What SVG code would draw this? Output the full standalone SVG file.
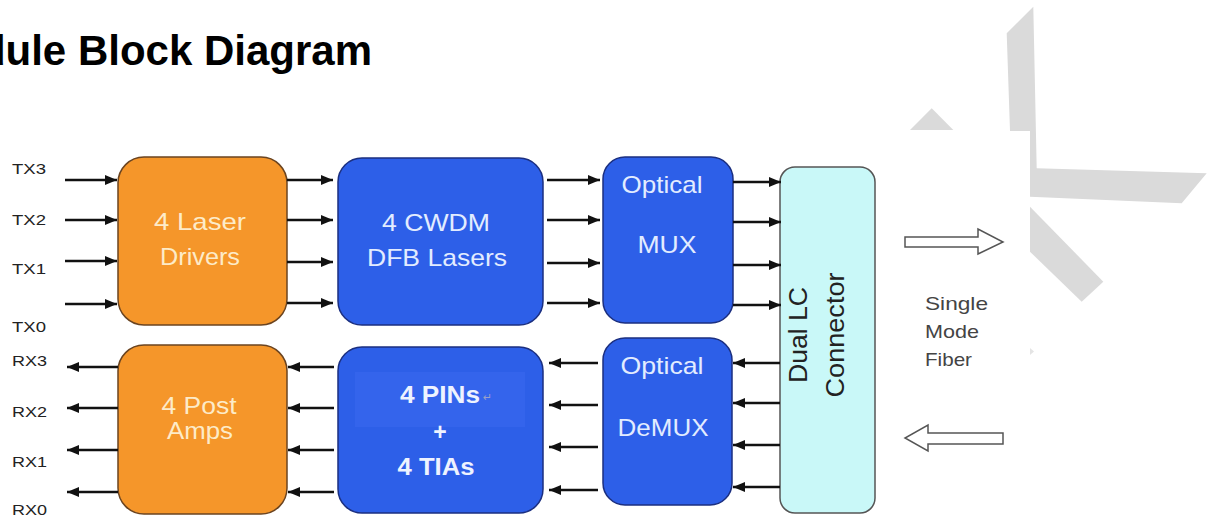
<svg xmlns="http://www.w3.org/2000/svg" width="1207" height="517" viewBox="0 0 1207 517">
<style>
.title{font-family:"Liberation Sans",Arial,sans-serif;font-weight:bold;font-size:42px;fill:#000}
.lbl{font-family:"Liberation Sans",Arial,sans-serif;font-size:15px;fill:#222}
.orange{fill:#F5962A;stroke:#6b4420;stroke-width:1.5}
.blue{fill:#2D5FE8;stroke:#1b2f80;stroke-width:1.5}
.conn{fill:#C9F8F8;stroke:#555;stroke-width:1.5}
.ot{font-family:"Liberation Sans",Arial,sans-serif;font-size:24px;fill:#FDEBC8;text-anchor:middle}
.bt{font-family:"Liberation Sans",Arial,sans-serif;font-size:24px;fill:#E2ECFF;text-anchor:middle}
.btb{font-family:"Liberation Sans",Arial,sans-serif;font-size:23px;font-weight:bold;fill:#EEF3FF;text-anchor:middle}
.ct{font-family:"Liberation Sans",Arial,sans-serif;font-size:26px;fill:#222;text-anchor:middle}
.ft{font-family:"Liberation Sans",Arial,sans-serif;font-size:19px;fill:#444}
.wm{fill:#DADADA}
.ar{stroke:#111;stroke-width:2.5;fill:none;marker-end:url(#ah)}
.hollow{fill:#fff;stroke:#555;stroke-width:1.5}
</style>
<defs>
<marker id="ah" viewBox="0 0 12 10" refX="12" refY="5" markerWidth="12" markerHeight="10" markerUnits="userSpaceOnUse" orient="auto">
<path d="M0,0 L12,5 L0,10 z" fill="#111"/>
</marker>
</defs>
<rect width="1207" height="517" fill="#fff"/>
<g id="watermark">
<polygon class="wm" points="1006.7,33.3 1010,131 1030,131 1030,196.7 1181.7,203.3 1206.7,173.3 1036.7,168.3 1033.3,6.7"/>
<polygon class="wm" points="910,130 931.7,108.3 953.3,130"/>
<polygon class="wm" points="1030,206.7 1030,251.7 1081.7,301.7 1103.3,281.7"/>
<polygon fill="#E4E4E4" points="1030,348 1034,351.5 1030,355"/>
</g>
<text class="title" x="372" y="65" text-anchor="end">Module Block Diagram</text>
<g id="tx-labels">
<text class="lbl" x="12" y="174" textLength="34" lengthAdjust="spacingAndGlyphs">TX3</text>
<text class="lbl" x="12" y="225" textLength="34" lengthAdjust="spacingAndGlyphs">TX2</text>
<text class="lbl" x="12" y="274" textLength="34" lengthAdjust="spacingAndGlyphs">TX1</text>
<text class="lbl" x="12" y="332" textLength="34" lengthAdjust="spacingAndGlyphs">TX0</text>
</g>
<g id="rx-labels">
<text class="lbl" x="12" y="366" textLength="35" lengthAdjust="spacingAndGlyphs">RX3</text>
<text class="lbl" x="12" y="417" textLength="35" lengthAdjust="spacingAndGlyphs">RX2</text>
<text class="lbl" x="12" y="467" textLength="35" lengthAdjust="spacingAndGlyphs">RX1</text>
<text class="lbl" x="12" y="515" textLength="35" lengthAdjust="spacingAndGlyphs">RX0</text>
</g>
<g id="laser-drivers">
<rect class="orange" x="118" y="157" width="169" height="168" rx="26"/>
<text class="ot" x="200" y="230" textLength="92" lengthAdjust="spacingAndGlyphs">4 Laser</text>
<text class="ot" x="200" y="265" textLength="80" lengthAdjust="spacingAndGlyphs">Drivers</text>
</g>
<g id="cwdm-lasers">
<rect class="blue" x="338" y="158" width="205" height="167" rx="24"/>
<text class="bt" x="436" y="231" textLength="108" lengthAdjust="spacingAndGlyphs">4 CWDM</text>
<text class="bt" x="437" y="266" textLength="140" lengthAdjust="spacingAndGlyphs">DFB Lasers</text>
</g>
<g id="optical-mux">
<rect class="blue" x="603" y="157" width="130" height="166" rx="22"/>
<text class="bt" x="662" y="193" textLength="81" lengthAdjust="spacingAndGlyphs">Optical</text>
<text class="bt" x="667" y="253" textLength="59" lengthAdjust="spacingAndGlyphs">MUX</text>
</g>
<g id="post-amps">
<rect class="orange" x="118" y="345" width="169" height="169" rx="26"/>
<text class="ot" x="199" y="414" textLength="75" lengthAdjust="spacingAndGlyphs">4 Post</text>
<text class="ot" x="200" y="439" textLength="66" lengthAdjust="spacingAndGlyphs">Amps</text>
</g>
<g id="pins-tias">
<rect class="blue" x="338" y="347" width="205" height="166" rx="24"/>
<rect x="355" y="372" width="170" height="55" fill="#3464EC"/>
<text class="btb" x="440" y="403" textLength="80" lengthAdjust="spacingAndGlyphs">4 PINs</text>
<text x="483" y="401" font-family="DejaVu Sans,sans-serif" font-size="11" fill="#9aa0c8">↵</text>
<text class="btb" x="440" y="440" font-size="16">+</text>
<text class="btb" x="436" y="475" textLength="77" lengthAdjust="spacingAndGlyphs">4 TIAs</text>
</g>
<g id="optical-demux">
<rect class="blue" x="603" y="338" width="129" height="167" rx="22"/>
<text class="bt" x="662" y="374" textLength="83" lengthAdjust="spacingAndGlyphs">Optical</text>
<text class="bt" x="663" y="436" textLength="91" lengthAdjust="spacingAndGlyphs">DeMUX</text>
</g>
<g id="dual-lc-connector">
<rect class="conn" x="780" y="167" width="95" height="346" rx="15"/>
<text class="ct" transform="translate(807,335) rotate(-90)" textLength="96" lengthAdjust="spacingAndGlyphs">Dual LC</text>
<text class="ct" transform="translate(844,335) rotate(-90)" textLength="125" lengthAdjust="spacingAndGlyphs">Connector</text>
</g>
<g id="fiber">
<path class="hollow" d="M905,237 L978,237 L978,229 L1003,242 L978,254 L978,247 L905,247 Z"/>
<path class="hollow" d="M1003,433 L928,433 L928,425 L905,438 L928,451 L928,444 L1003,444 Z"/>
<text class="ft" x="925" y="310" textLength="63" lengthAdjust="spacingAndGlyphs">Single</text>
<text class="ft" x="925" y="338" textLength="54" lengthAdjust="spacingAndGlyphs">Mode</text>
<text class="ft" x="925" y="366" textLength="47" lengthAdjust="spacingAndGlyphs">Fiber</text>
</g>
<g id="connectors">
<line class="ar" x1="65" y1="180" x2="117" y2="180"/>
<line class="ar" x1="65" y1="220" x2="117" y2="220"/>
<line class="ar" x1="65" y1="261" x2="117" y2="261"/>
<line class="ar" x1="65" y1="304" x2="117" y2="304"/>
<line class="ar" x1="287" y1="180" x2="333" y2="180"/>
<line class="ar" x1="287" y1="220" x2="333" y2="220"/>
<line class="ar" x1="287" y1="262" x2="333" y2="262"/>
<line class="ar" x1="287" y1="303" x2="333" y2="303"/>
<line class="ar" x1="547" y1="180" x2="600" y2="180"/>
<line class="ar" x1="547" y1="220" x2="600" y2="220"/>
<line class="ar" x1="547" y1="263" x2="600" y2="263"/>
<line class="ar" x1="547" y1="303" x2="600" y2="303"/>
<line class="ar" x1="733" y1="182" x2="781" y2="182"/>
<line class="ar" x1="733" y1="222" x2="781" y2="222"/>
<line class="ar" x1="733" y1="265" x2="781" y2="265"/>
<line class="ar" x1="733" y1="305" x2="781" y2="305"/>
<line class="ar" x1="780" y1="363" x2="733" y2="363"/>
<line class="ar" x1="780" y1="403" x2="733" y2="403"/>
<line class="ar" x1="780" y1="445" x2="733" y2="445"/>
<line class="ar" x1="780" y1="487" x2="733" y2="487"/>
<line class="ar" x1="598" y1="363" x2="549" y2="363"/>
<line class="ar" x1="598" y1="405" x2="549" y2="405"/>
<line class="ar" x1="598" y1="447" x2="549" y2="447"/>
<line class="ar" x1="598" y1="490" x2="549" y2="490"/>
<line class="ar" x1="334" y1="367" x2="288" y2="367"/>
<line class="ar" x1="334" y1="408" x2="288" y2="408"/>
<line class="ar" x1="334" y1="450" x2="288" y2="450"/>
<line class="ar" x1="334" y1="492" x2="288" y2="492"/>
<line class="ar" x1="118" y1="367" x2="67" y2="367"/>
<line class="ar" x1="118" y1="408" x2="67" y2="408"/>
<line class="ar" x1="118" y1="450" x2="67" y2="450"/>
<line class="ar" x1="118" y1="492" x2="67" y2="492"/>
</g>
</svg>
